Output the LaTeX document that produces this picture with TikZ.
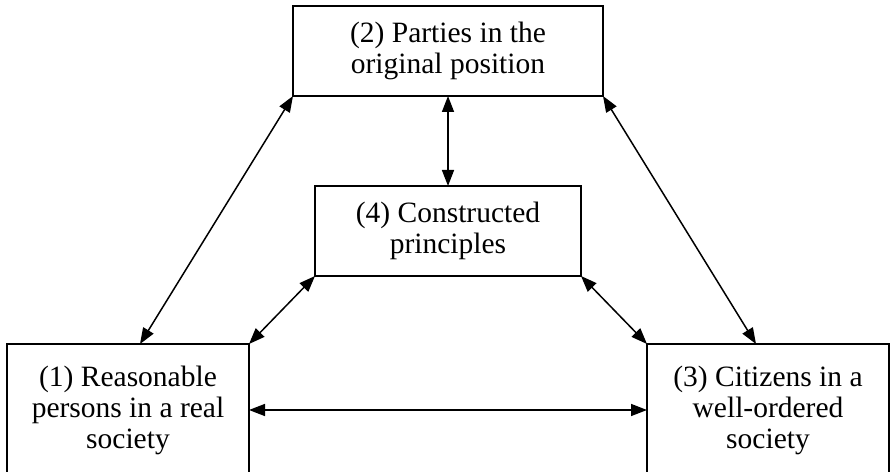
\documentclass[tikz,border=0pt]{standalone}
\usepackage{fontspec}
\setmainfont{Liberation Serif}
\usetikzlibrary{positioning,arrows.meta}
\tikzset{
  box/.style={draw=black, line width=1.7pt, outer sep=0pt, align=center, inner sep=2pt, font=\fontsize{29.5}{31}\selectfont},
  wide/.style={box, minimum width=310pt, minimum height=90pt},
  mid/.style={box, minimum width=266pt, minimum height=90pt},
  side/.style={box, minimum width=242pt, minimum height=132pt},
  link/.style={{Triangle[length=16pt,width=12pt]}-{Triangle[length=16pt,width=12pt]}, line width=1.5pt}
}
\begin{document}
\begin{tikzpicture}[x=1pt,y=1pt]
  \useasboundingbox (0,0) rectangle (891,471);
  \node[wide] (parties) at (448,420) {(2) Parties in the\\original position};
  \node[mid, below=90pt of parties] (principles) {(4) Constructed\\principles};
  \node[side, below left=68pt and 66pt of principles] (persons) {(1) Reasonable\\persons in a real\\society};
  \node[side, below right=68pt and 66pt of principles] (citizens) {(3) Citizens in a\\well-ordered\\society};

  \draw[link] (parties.south west) -- ([xshift=12pt]persons.north);
  \draw[link] (parties.south) -- (principles.north);
  \draw[link] (parties.south east) -- ([xshift=-12pt]citizens.north);
  \draw[link] (principles.south west) -- (persons.north east);
  \draw[link] (principles.south east) -- (citizens.north west);
  \draw[link] (persons.east) -- (citizens.west);
\end{tikzpicture}
\end{document}
